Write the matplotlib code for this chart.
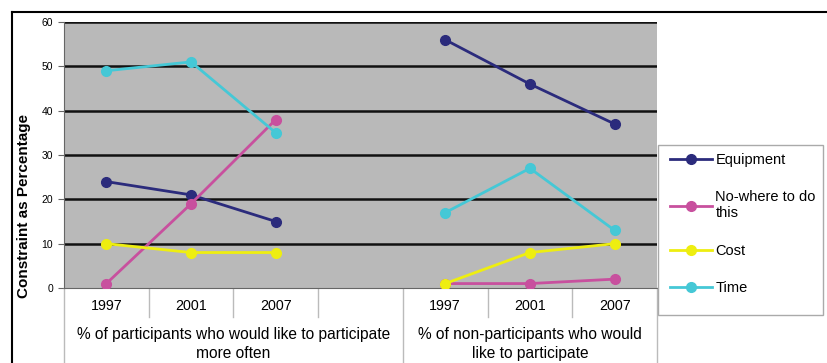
import numpy as np
import matplotlib
matplotlib.use("Agg")
import matplotlib.pyplot as plt
from matplotlib.lines import Line2D
from matplotlib.patches import Rectangle

plt.rcParams['font.family'] = ['Liberation Sans', 'DejaVu Sans']

years = ["1997", "2001", "2007", "", "1997", "2001", "2007"]
groups = ["% of participants who would like to participate\nmore often",
          "% of non-participants who would\nlike to participate"]
group_slots = [[0, 1, 2, 3], [4, 5, 6]]
nan = np.nan
equipment = [24, 21, 15, nan, 56, 46, 37]
nowhere = [1, 19, 38, nan, 1, 1, 2]
cost = [10, 8, 8, nan, 1, 8, 10]
time_ = [49, 51, 35, nan, 17, 27, 13]

series = [("Equipment", equipment, "#2b2b7c"),
          ("No-where to do\nthis", nowhere, "#c8509e"),
          ("Cost", cost, "#eeee10"),
          ("Time", time_, "#45c8d6")]

fig = plt.figure(figsize=(8.27, 3.63), dpi=100)
ax = fig.add_axes([64/827, 75/363, (657-64)/827, (288-22)/363])
ax.set_facecolor("#b9b9b9")
x = np.arange(len(years))
for name, vals, col in series:
    ax.plot(x, vals, color=col, lw=2, marker="o", ms=7, label=name, zorder=3)

ax.set_xlim(-0.5, len(years) - 0.5)
ax.set_ylim(0, 60)
ax.set_yticks(np.arange(0, 61, 10))
ax.tick_params(axis="y", labelsize=7.5, length=4, pad=4, color="#666666")
for yv in range(10, 61, 10):
    ax.axhline(yv, color="#111111", lw=1.8, zorder=1)
ax.set_xticks(x)
ax.set_xticklabels(years, fontsize=10.3)
ax.tick_params(axis="x", length=0, pad=8)
for s in ["top", "right"]:
    ax.spines[s].set_visible(False)
ax.spines["left"].set_color("#666666")
ax.spines["bottom"].set_color("#666666")
ax.set_ylabel("Constraint as Percentage", fontsize=11, fontweight="bold")
ax.yaxis.set_label_coords(-0.055, 0.31)

tr = ax.get_xaxis_transform()
for b in np.arange(-0.5, len(years), 1.0):
    if b in (-0.5, 3.5, len(years) - 0.5):
        ax.plot([b, b], [0, -0.29], transform=tr, color="#bbbbbb", lw=1, clip_on=False)
    else:
        ax.plot([b, b], [0, -0.11], transform=tr, color="#bbbbbb", lw=1, clip_on=False)
for g, slots in zip(groups, group_slots):
    cx = (slots[0] - 0.5 + slots[-1] + 0.5) / 2
    ax.text(cx, -0.21, g, transform=tr, ha="center", va="center", fontsize=11.2,
            linespacing=1.3)

leg = fig.legend(loc="upper left", bbox_to_anchor=(664/827, (363-147)/363),
                 frameon=False, fontsize=10.5, labelspacing=1.6, handlelength=2.9,
                 handletextpad=0.22, borderpad=0.4, borderaxespad=0)
fig.add_artist(Rectangle((658/827, (363-315)/363), (823-658)/827, (315-145)/363,
                         transform=fig.transFigure, fill=False,
                         edgecolor="#aaaaaa", lw=1))

fig.add_artist(Line2D([12/827, 1], [1 - 12/363, 1 - 12/363], color="black", lw=1.5))
fig.add_artist(Line2D([12/827, 12/827], [0, 1 - 12/363], color="black", lw=1.5))

fig.savefig("out.png", dpi=100)
